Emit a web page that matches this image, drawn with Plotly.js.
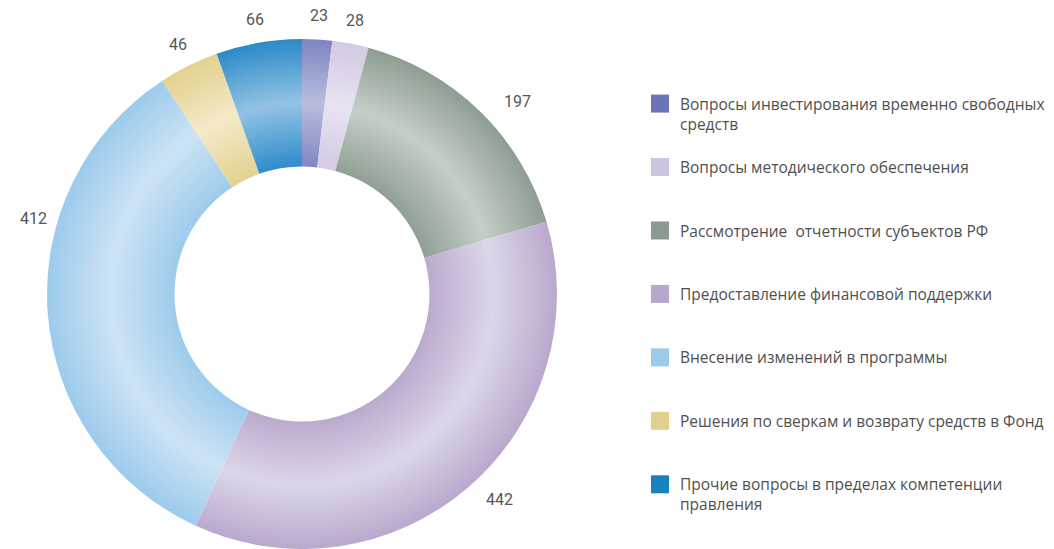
<!DOCTYPE html>
<html>
<head>
<meta charset="utf-8">
<script src="https://cdn.plot.ly/plotly-3.0.1.min.js"></script>
<style>
  html, body { margin: 0; padding: 0; background: #fff; }
  #chart { width: 1054px; height: 549px; }
</style>
</head>
<body>
<div id="chart"></div>
<script>
// --- data ---
const categories = [
    "Вопросы инвестирования временно свободных<br>средств",
    "Вопросы методического обеспечения",
    "Рассмотрение  отчетности субъектов РФ",
    "Предоставление финансовой поддержки",
    "Внесение изменений в программы",
    "Решения по сверкам и возврату средств в Фонд",
    "Прочие вопросы в пределах компетенции<br>правления"
];
const counts = [23, 28, 197, 442, 412, 46, 66];

// legend / base colours, plus the light and dark tones of the ring shading
const baseColors = ["#6b74b8", "#cfc4e0", "#8b9a8f", "#b8a6cc", "#9bcaec", "#e2d08c", "#1a80c4"];
const midColors  = ["#b9bddd", "#e8e3f1", "#c6cec8", "#ddd6e9", "#cde3f5", "#f3eac8", "#93c3e4"];
const edgeColors = ["#7e84c2", "#d3c9e3", "#8e9e92", "#baa8cd", "#9ccbec", "#e3d18f", "#2a8ac8"];

const W = 1054, H = 549;
const textColor = "#505050";
const labelFont = "Roboto, 'Open Sans', sans-serif";
const legendFont = "'Open Sans', Roboto, sans-serif";

// pie sits left: centre (302, 294), radius 255
const pieDomain = { x: [47 / W, 557 / W], y: [0, 510 / H] };

// every legend entry takes three lines so the spacing stays even
const legendLabels = categories.map((c) => {
    const n = c.split("<br>").length;
    return c + "<br>\u00a0".repeat(3 - n);
});

// value labels outside the ring, at the middle angle of each slice
const total = counts.reduce((a, b) => a + b, 0);
const cx = ((pieDomain.x[0] + pieDomain.x[1]) / 2) * W;
const cy = H - ((pieDomain.y[0] + pieDomain.y[1]) / 2) * H;
const radius = ((pieDomain.x[1] - pieDomain.x[0]) * W) / 2;
// a few labels sit off the middle angle in the original
const angleNudge = { 2: 4, 3: -3, 4: 20 };
const distNudge = { 2: 10, 3: 6 };

let cum = 0;
const annotations = counts.map((v, i) => {
    const mid = ((cum + v / 2) / total) * 360 + (angleNudge[i] || 0);
    cum += v;
    const th = (mid * Math.PI) / 180;
    const d = radius + 24 + (distNudge[i] || 0);
    const px = cx + d * Math.sin(th);
    const py = cy - d * Math.cos(th);
    return {
        x: px / W,
        y: 1 - py / H,
        xref: "paper",
        yref: "paper",
        xanchor: "center",
        yanchor: "middle",
        text: String(v),
        showarrow: false,
        font: { family: labelFont, size: 16, color: "#555" },
    };
});

const trace = {
    type: "pie",
    labels: legendLabels,
    values: counts,
    sort: false,
    direction: "clockwise",
    rotation: 0,
    hole: 0.5,
    domain: pieDomain,
    textinfo: "none",
    hoverinfo: "label+value",
    marker: { colors: baseColors, line: { width: 0 } },
};

const layout = {
    width: W,
    height: H,
    margin: { l: 0, r: 0, t: 0, b: 0 },
    paper_bgcolor: "#fff",
    font: { family: labelFont, color: textColor },
    showlegend: true,
    legend: {
        x: 640 / W,
        y: 1 - 87 / H,
        xanchor: "left",
        yanchor: "top",
        valign: "top",
        font: { family: legendFont, size: 15.5, color: textColor },
        bgcolor: "rgba(0,0,0,0)",
    },
    annotations: annotations,
};

Plotly.newPlot("chart", [trace], layout, { displayModeBar: false, staticPlot: true }).then((gd) => {
    // radial shading of the ring: dark at the inner and outer rim, light in between
    const cd0 = gd.calcdata[0][0];
    const svg = gd.querySelector("svg.main-svg");
    const ns = "http://www.w3.org/2000/svg";
    let defs = svg.querySelector("defs");
    if (!defs) {
        defs = document.createElementNS(ns, "defs");
        svg.insertBefore(defs, svg.firstChild);
    }
    counts.forEach((v, i) => {
        const g = document.createElementNS(ns, "radialGradient");
        g.setAttribute("id", "ring" + i);
        g.setAttribute("gradientUnits", "userSpaceOnUse");
        g.setAttribute("cx", cd0.cx);
        g.setAttribute("cy", cd0.cy);
        g.setAttribute("r", cd0.r);
        [[0.49, edgeColors[i]], [0.75, midColors[i]], [1, edgeColors[i]]].forEach(([o, c]) => {
            const s = document.createElementNS(ns, "stop");
            s.setAttribute("offset", o);
            s.setAttribute("stop-color", c);
            g.appendChild(s);
        });
        defs.appendChild(g);
    });
    gd.querySelectorAll("g.slice").forEach((el, k) => {
        const i = el.__data__ && el.__data__.i !== undefined ? el.__data__.i : k;
        const p = el.querySelector("path.surface");
        if (p) p.style.fill = "url(#ring" + i + ")";
    });

    // bigger legend squares, like the original
    gd.querySelectorAll(".legend .legendpoints path").forEach((p) => {
        p.setAttribute("d", "M9,9H-9V-9H9Z");
    });
});
</script>
</body>
</html>
